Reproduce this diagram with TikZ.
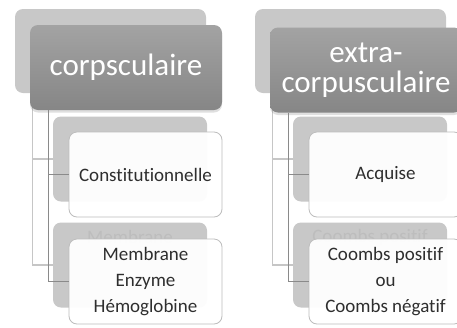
\documentclass[tikz,border=0pt]{standalone}
\usepackage{fontspec}
\setmainfont{Carlito}[RawFeature=-liga]
\usetikzlibrary{calc,shadows}

\definecolor{backgray}{HTML}{C8C8C8}
\definecolor{hdrtop}{HTML}{A3A3A3}
\definecolor{hdrbot}{HTML}{868686}
\definecolor{boxline}{HTML}{BDBDBD}
\definecolor{linkdark}{HTML}{8A8A8A}
\definecolor{linklight}{HTML}{C6C6C6}
\definecolor{ink}{HTML}{2E2E2E}
\definecolor{ghost}{HTML}{BDBDBD}

\tikzset{
  backhead/.style={rectangle, rounded corners=8pt, fill=backgray, draw=none,
    inner sep=0pt, minimum width=191pt, minimum height=84pt},
  backleaf/.style={rectangle, rounded corners=8pt, fill=backgray, draw=none,
    inner sep=0pt, minimum width=154pt, minimum height=85pt},
  ghosttext/.style={text=ghost, inner sep=0pt, font=\fontsize{19}{26}\selectfont},
  headbox/.style={rectangle, rounded corners=8pt, top color=hdrtop,
    bottom color=hdrbot, draw=none, inner sep=0pt,
    minimum width=192pt, minimum height=85pt, text=white,
    font=\fontsize{31}{30}\selectfont, align=center,
    drop shadow={shadow xshift=0pt, shadow yshift=-2.5pt, opacity=0.25}},
  leafbox/.style={rectangle, rounded corners=8pt, fill=white, fill opacity=0.95,
    text opacity=1, draw=boxline, line width=0.8pt, inner sep=0pt,
    minimum width=153pt, minimum height=85pt, text=ink,
    font=\fontsize{19}{26}\selectfont, align=center},
  lightlink/.style={draw=linklight, line width=1.2pt},
  darklink/.style={draw=linkdark, line width=1.2pt},
}

\begin{document}
\begin{tikzpicture}[x=1pt, y=-1pt]
  \clip (0,0) rectangle (457,327);
  \fill[white] (0,0) rectangle (457,327);

  % ---- back layer: left group ----
  \node[backhead] (bhL) at (110.5,51) {};
  \node[backleaf] (bc1L) at (130,159) {};
  \node[backleaf] (bc2L) at (130,265) {};
  \node[ghosttext] (gL) at (130,237) {Membrane};
  \draw[lightlink] ($(bhL.south west)+(18,0)$) |- (bc1L.west);
  \draw[lightlink] ($(bhL.south west)+(18,0)$) |- (bc2L.west);

  % ---- back layer: right group ----
  \node[backhead] (bhR) at (350.5,51) {};
  \node[backleaf] (bc1R) at (370,159) {};
  \node[backleaf] (bc2R) at (370,265) {};
  \node[ghosttext] (gR) at (370,237) {Coombs positif};
  \draw[lightlink] ($(bhR.south west)+(18,0)$) |- (bc1R.west);
  \draw[lightlink] ($(bhR.south west)+(18,0)$) |- (bc2R.west);

  % ---- front layer: left group ----
  \node[headbox] (hL) at (126,67.5) {corpsculaire};
  \node[leafbox] (c1L) at (145.5,174.5) {Constitutionnelle};
  \node[leafbox] (c2L) at (145.5,281.5) {Membrane\\Enzyme\\Hémoglobine};
  \draw[darklink] ($(hL.south west)+(19,0)$) |- (c1L.west);
  \draw[darklink] ($(hL.south west)+(19,0)$) |- (c2L.west);

  % ---- front layer: right group ----
  \node[headbox] (hR) at (366,70) {extra-\\corpusculaire};
  \node[leafbox] (c1R) at (385.5,174.5) {Acquise};
  \node[leafbox] (c2R) at (385.5,281.5) {Coombs positif\\ou\\Coombs négatif};
  \draw[darklink] ($(hR.south west)+(19,0)$) |- (c1R.west);
  \draw[darklink] ($(hR.south west)+(19,0)$) |- (c2R.west);
\end{tikzpicture}
\end{document}
